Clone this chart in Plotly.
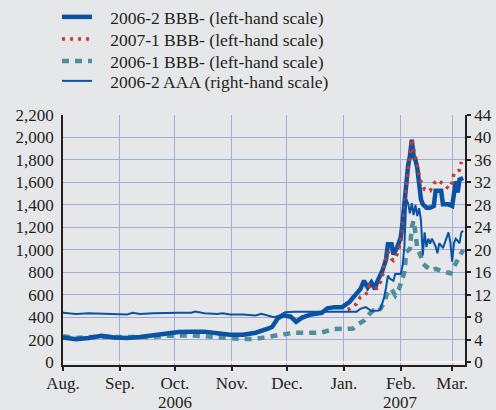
import plotly.graph_objects as go

# 2006-2 BBB- (left-hand scale), basis points
bbb_2006_2_dates = ["2006-08-01", "2006-08-08", "2006-08-15", "2006-08-22", "2006-08-29",
                    "2006-09-05", "2006-09-12", "2006-09-19", "2006-09-26", "2006-10-03",
                    "2006-10-10", "2006-10-17", "2006-10-24", "2006-10-31", "2006-11-07",
                    "2006-11-14", "2006-11-21", "2006-11-23", "2006-11-26", "2006-11-29",
                    "2006-12-03", "2006-12-06", "2006-12-09", "2006-12-14", "2006-12-20",
                    "2006-12-23", "2006-12-27", "2006-12-31", "2007-01-04", "2007-01-07",
                    "2007-01-10", "2007-01-12", "2007-01-14", "2007-01-16", "2007-01-18",
                    "2007-01-19", "2007-01-22", "2007-01-24", "2007-01-25", "2007-01-27",
                    "2007-01-28", "2007-01-30", "2007-02-01", "2007-02-02", "2007-02-03",
                    "2007-02-04", "2007-02-05", "2007-02-06", "2007-02-07", "2007-02-08",
                    "2007-02-09", "2007-02-10", "2007-02-11", "2007-02-12", "2007-02-13",
                    "2007-02-15", "2007-02-17", "2007-02-19", "2007-02-20", "2007-02-23",
                    "2007-02-24", "2007-02-27", "2007-03-01", "2007-03-02", "2007-03-03",
                    "2007-03-04", "2007-03-05", "2007-03-07"]
bbb_2006_2 = [220, 205, 215, 235, 220, 215, 225, 240, 260, 268,
              272, 272, 258, 245, 245, 262, 300, 315, 390, 418,
              405, 360, 395, 425, 440, 480, 490, 490, 535, 590,
              650, 725, 665, 710, 650, 710, 815, 915, 1050, 1050,
              960, 1020, 1110, 1245, 1450, 1650, 1750, 1835, 1980, 1835,
              1800, 1730, 1600, 1450, 1405, 1375, 1375, 1390, 1525, 1525,
              1405, 1405, 1390, 1540, 1610, 1510, 1625, 1640]

# 2007-1 BBB- (left-hand scale)
bbb_2007_1_dates = ["2007-01-03", "2007-01-04", "2007-01-08", "2007-01-10", "2007-01-11",
                    "2007-01-14", "2007-01-15", "2007-01-17", "2007-01-19", "2007-01-21",
                    "2007-01-22", "2007-01-23", "2007-01-25", "2007-01-27", "2007-01-28",
                    "2007-01-30", "2007-02-01", "2007-02-02", "2007-02-03", "2007-02-04",
                    "2007-02-05", "2007-02-06", "2007-02-07", "2007-02-08", "2007-02-09",
                    "2007-02-10", "2007-02-11", "2007-02-12", "2007-02-14", "2007-02-17",
                    "2007-02-19", "2007-02-21", "2007-02-24", "2007-02-27", "2007-03-01",
                    "2007-03-02", "2007-03-05", "2007-03-06"]
bbb_2007_1 = [470, 475, 520, 580, 585, 620, 685, 670, 658, 715,
              760, 880, 980, 920, 907, 960, 1065, 1185, 1330, 1560,
              1700, 1795, 1985, 1900, 1835, 1750, 1665, 1605, 1537, 1525,
              1590, 1620, 1590, 1545, 1600, 1680, 1710, 1783]

# 2006-1 BBB- (left-hand scale)
bbb_2006_1_dates = ["2006-08-01", "2006-08-08", "2006-08-15", "2006-08-22", "2006-08-29",
                    "2006-09-05", "2006-09-12", "2006-09-19", "2006-09-26", "2006-10-03",
                    "2006-10-10", "2006-10-17", "2006-10-24", "2006-10-31", "2006-11-07",
                    "2006-11-14", "2006-11-21", "2006-11-28", "2006-12-05", "2006-12-12",
                    "2006-12-19", "2006-12-27", "2007-01-03", "2007-01-06", "2007-01-09",
                    "2007-01-12", "2007-01-15", "2007-01-17", "2007-01-19", "2007-01-21",
                    "2007-01-23", "2007-01-25", "2007-01-27", "2007-01-29", "2007-01-31",
                    "2007-02-01", "2007-02-03", "2007-02-04", "2007-02-06", "2007-02-07",
                    "2007-02-08", "2007-02-09", "2007-02-10", "2007-02-12", "2007-02-13",
                    "2007-02-15", "2007-02-18", "2007-02-20", "2007-02-23", "2007-02-27",
                    "2007-02-28", "2007-03-02", "2007-03-05", "2007-03-07"]
bbb_2006_1 = [230, 215, 225, 225, 215, 215, 218, 225, 235, 238,
              238, 232, 220, 210, 205, 208, 222, 245, 262, 265,
              262, 295, 300, 300, 340, 370, 430, 460, 450, 475,
              535, 635, 650, 595, 650, 700, 800, 980, 1010, 1200,
              1260, 1150, 1020, 940, 880, 850, 815, 830, 815, 800,
              790, 850, 940, 1000]

# 2006-2 AAA (right-hand scale)
aaa_2006_2_dates = ["2006-08-01", "2006-08-08", "2006-08-15", "2006-08-22", "2006-08-29",
                    "2006-09-05", "2006-09-08", "2006-09-12", "2006-09-19", "2006-09-26",
                    "2006-10-03", "2006-10-10", "2006-10-12", "2006-10-17", "2006-10-24",
                    "2006-10-27", "2006-10-31", "2006-11-07", "2006-11-14", "2006-11-17",
                    "2006-11-20", "2006-11-24", "2006-11-27", "2006-11-30", "2006-12-05",
                    "2006-12-12", "2006-12-18", "2006-12-23", "2006-12-27", "2007-01-03",
                    "2007-01-08", "2007-01-10", "2007-01-13", "2007-01-16", "2007-01-20",
                    "2007-01-21", "2007-01-23", "2007-01-24", "2007-01-25", "2007-01-26",
                    "2007-01-28", "2007-01-29", "2007-02-01", "2007-02-02", "2007-02-03",
                    "2007-02-04", "2007-02-05", "2007-02-06", "2007-02-07", "2007-02-08",
                    "2007-02-09", "2007-02-10", "2007-02-11", "2007-02-12", "2007-02-13",
                    "2007-02-14", "2007-02-15", "2007-02-16", "2007-02-17", "2007-02-18",
                    "2007-02-20", "2007-02-21", "2007-02-22", "2007-02-24", "2007-02-26",
                    "2007-02-27", "2007-02-28", "2007-03-01", "2007-03-02", "2007-03-03",
                    "2007-03-05", "2007-03-06", "2007-03-07"]
aaa_2006_2 = [8.8, 8.6, 8.7, 8.6, 8.6, 8.5, 8.8, 8.6, 8.7, 8.8,
              8.8, 8.8, 9.0, 8.7, 8.6, 8.7, 8.5, 8.5, 8.3, 8.6,
              8.3, 8.0, 8.3, 8.9, 9.0, 9.0, 9.0, 8.9, 9.0, 9.0,
              9.0, 9.5, 9.8, 9.1, 9.2, 9.5, 11.6, 13.3, 15.4, 14.9,
              14.5, 15.7, 15.7, 17.2, 20.7, 29.0, 28.3, 26.5, 28.3, 26.2,
              28.0, 26.0, 27.4, 25.3, 19.0, 23.1, 20.5, 22.0, 21.1, 22.0,
              20.6, 19.4, 21.2, 20.3, 22.0, 23.1, 21.4, 17.9, 21.2, 22.0,
              21.2, 23.1, 23.4]

month_ticks = ["2006-08-01", "2006-09-01", "2006-10-01", "2006-11-01", "2006-12-01",
               "2007-01-01", "2007-02-01", "2007-03-01"]
month_labels = ["Aug.", "Sep.", "Oct.", "Nov.", "Dec.", "Jan.", "Feb.", "Mar."]
year_ticks = ["2006-10-01", "2007-02-01"]
year_labels = ["2006", "2007"]

BG = "#e6e7e9"
GRID = "#a3acd8"
INK = "#231f20"
SERIF = "Liberation Serif"
PAD = "\u00a0\u00a0\u00a0"
tick_font = dict(family=SERIF, size=17, color=INK)

fig = go.Figure()
fig.add_trace(go.Scatter(x=bbb_2006_1_dates, y=bbb_2006_1, mode="lines",
                         name=PAD + "2006-1 BBB- (left-hand scale)", legend="legend3",
                         line=dict(color="#4f8f9b", width=4.5, dash="7px,6px")))
fig.add_trace(go.Scatter(x=bbb_2006_2_dates, y=bbb_2006_2, mode="lines",
                         name=PAD + "2006-2 BBB- (left-hand scale)", legend="legend",
                         line=dict(color="#0a52a3", width=4.5)))
fig.add_trace(go.Scatter(x=bbb_2007_1_dates, y=bbb_2007_1, mode="lines",
                         name=PAD + "2007-1 BBB- (left-hand scale)", legend="legend2",
                         line=dict(color="#bf3b30", width=3.5, dash="3px,5px")))
fig.add_trace(go.Scatter(x=aaa_2006_2_dates, y=aaa_2006_2, mode="lines",
                         name=PAD + "2006-2 AAA (right-hand scale)", legend="legend4",
                         yaxis="y2", line=dict(color="#0a52a3", width=2)))

for d, label in zip(year_ticks, year_labels):
    fig.add_annotation(x=d, xref="x", y=0, yref="paper", yshift=-37,
                       text=label, showarrow=False, yanchor="middle",
                       borderpad=0, font=tick_font)


def legend_row(row_y):
    return dict(xref="container", yref="container", x=57 / 496, y=1 - row_y / 410,
                xanchor="left", yanchor="middle", bgcolor="rgba(0,0,0,0)",
                font=dict(family=SERIF, size=17.5, color=INK), itemwidth=30)


fig.update_layout(
    width=496, height=410,
    paper_bgcolor=BG, plot_bgcolor=BG,
    margin=dict(l=63, r=31, t=115, b=45, autoexpand=False),
    font=dict(family=SERIF, size=17, color=INK),
    showlegend=True,
    legend=legend_row(17),
    legend2=legend_row(39),
    legend3=legend_row(61),
    legend4=legend_row(81),
    xaxis=dict(type="date", range=["2006-08-01", "2007-03-08"],
               tickvals=month_ticks, ticktext=month_labels, tickangle=0,
               tickfont=tick_font, ticklabelstandoff=-2,
               showgrid=True, gridcolor=GRID, gridwidth=1,
               showline=True, linecolor=INK, linewidth=1.5,
               ticks="outside", ticklen=4, tickcolor=INK, tickwidth=1.5),
    yaxis=dict(range=[-25, 2200], dtick=200, tickformat=",", tickfont=tick_font,
               showgrid=True, gridcolor=GRID, gridwidth=1,
               zeroline=True, zerolinecolor="#f4f4f6", zerolinewidth=1.5,
               showline=True, linecolor=INK, linewidth=1.5,
               ticks="", ticklabelstandoff=4),
    yaxis2=dict(range=[-0.5, 44], dtick=4, overlaying="y", side="right",
                tickfont=tick_font,
                showgrid=False, zeroline=False,
                showline=True, linecolor=INK, linewidth=1.5,
                ticks="outside", ticklen=4, tickcolor=INK, tickwidth=1.5),
)

# drop the page's default 8px body margin so the figure sits at the window's corner
fig.write_html("out.html", config={"displayModeBar": False},
               post_script="document.body.style.margin='0';"
                           "document.body.style.background='#e6e7e9';")
